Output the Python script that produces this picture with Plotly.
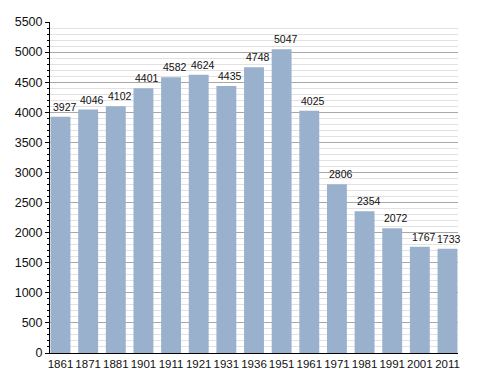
import plotly.graph_objects as go

years = ["1861", "1871", "1881", "1901", "1911", "1921", "1931", "1936", "1951", "1961", "1971", "1981", "1991", "2001", "2011"]
population = [3927, 4046, 4102, 4401, 4582, 4624, 4435, 4748, 5047, 4025, 2806, 2354, 2072, 1767, 1733]
y_ticks = [0, 500, 1000, 1500, 2000, 2500, 3000, 3500, 4000, 4500, 5000, 5500]

fig = go.Figure(go.Bar(
    x=years, y=population,
    marker=dict(color="#9ab1cd", line=dict(width=0)),
    hoverinfo="x+y",
))
for i, v in enumerate(population):
    fig.add_annotation(
        x=i, y=v, xref="x", yref="y", text=str(v), showarrow=False,
        xanchor="center", yanchor="bottom", yshift=2,
        xshift=(1 if i == len(population) - 1 else 4),
        font=dict(family="Liberation Sans, Arial", size=10.5, color="#111"),
    )
fig.update_layout(
    width=488, height=373,
    margin=dict(l=50, r=30, t=22, b=20),
    paper_bgcolor="white", plot_bgcolor="white",
    bargap=0.28, showlegend=False,
    font=dict(family="Liberation Sans, Arial", size=11, color="#111"),
)
fig.update_xaxes(type="category", showline=True, linecolor="black", linewidth=1, ticks="", showgrid=False,
                 range=[-0.38, 14.38], tickfont=dict(size=11.5), automargin=False)
fig.update_yaxes(range=[0, 5500], tickvals=y_ticks, showline=True, linecolor="black", linewidth=1,
                 ticks="outside", ticklen=4, tickcolor="black", showgrid=True, gridcolor="#a8a8a8",
                 gridwidth=1, zeroline=False, tickfont=dict(size=12.5), automargin=False,
                 minor=dict(dtick=100, showgrid=True, gridcolor="#e2e2e2", ticks="outside",
                            ticklen=2, tickcolor="black"))
fig.write_html("out.html", config={"displayModeBar": False},
               post_script="document.body.style.margin='0';")
